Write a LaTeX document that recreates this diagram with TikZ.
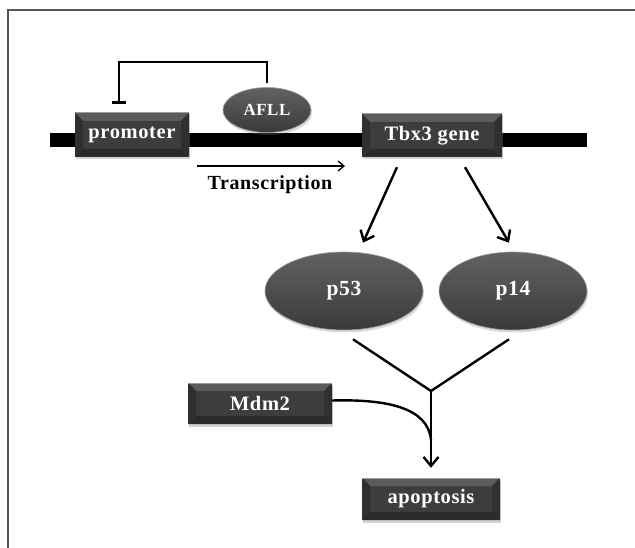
\documentclass[tikz,border=0pt]{standalone}
\usepackage{fontspec}
\setmainfont{Liberation Serif}
\newfontfamily\spacedfont[LetterSpace=3]{Liberation Serif}
\usetikzlibrary{shapes.geometric,arrows.meta,calc,shadows}
\definecolor{facec}{HTML}{3D3D3D}
\definecolor{topc}{HTML}{5C5C5C}
\definecolor{botc}{HTML}{2B2B2B}
\definecolor{sidec}{HTML}{303030}
\definecolor{rimc}{HTML}{9A9A9A}
\definecolor{ellTop}{HTML}{626262}
\definecolor{ellBot}{HTML}{3A3A3A}
\definecolor{framec}{HTML}{555555}
\tikzset{
  bev/.style={rectangle, inner sep=0pt, minimum width=#1, minimum height=43pt,
    fill=facec, text=white, font=\spacedfont\bfseries\fontsize{20.5}{22}\selectfont,
    drop shadow={shadow xshift=1pt, shadow yshift=-2.5pt, opacity=0.35},
    path picture={
      \def\ppb{path picture bounding box}
      \fill[topc] (\ppb.north west) -- (\ppb.north east) -- ([xshift=-8pt,yshift=-8pt]\ppb.north east) -- ([xshift=8pt,yshift=-8pt]\ppb.north west) -- cycle;
      \fill[botc] (\ppb.south west) -- (\ppb.south east) -- ([xshift=-8pt,yshift=8pt]\ppb.south east) -- ([xshift=8pt,yshift=8pt]\ppb.south west) -- cycle;
      \fill[sidec] (\ppb.north west) -- ([xshift=8pt,yshift=-8pt]\ppb.north west) -- ([xshift=8pt,yshift=8pt]\ppb.south west) -- (\ppb.south west) -- cycle;
      \fill[sidec] (\ppb.north east) -- ([xshift=-8pt,yshift=-8pt]\ppb.north east) -- ([xshift=-8pt,yshift=8pt]\ppb.south east) -- (\ppb.south east) -- cycle;
      \draw[rimc, line width=1pt] (\ppb.north west) -- (\ppb.north east);
    }},
  oval/.style={ellipse, inner sep=0pt, minimum width=#1, minimum height=78pt,
    top color=ellTop, bottom color=ellBot, draw=rimc, line width=0.6pt,
    text=white, font=\spacedfont\bfseries\fontsize{21.5}{23}\selectfont,
    drop shadow={shadow xshift=1pt, shadow yshift=-2.5pt, opacity=0.3}},
  conn/.style={line width=2.4pt, black},
  arr/.style={conn, -{Straight Barb[length=9pt,width=15pt,line width=2.4pt]}},
  inh/.style={line width=2.6pt, black, -{Bar[width=14pt,line width=2.6pt]}},
  thin/.style={line width=1.3pt, black, -{Straight Barb[length=6pt,width=10pt,line width=1.3pt]}}
}
\begin{document}
\begin{tikzpicture}[x=1pt,y=-1pt]
\useasboundingbox (0,0) rectangle (635,548);
% frame
\draw[framec, line width=2pt] (8,548) -- (8,10) -- (635,10);
% DNA strand
\fill[black] (50,133) rectangle (587,147);
% nodes
\node[bev=114pt, minimum height=44pt] (prom) at (132,135) {promoter};
\node[bev=140pt] (tbx) at (432,135.5) {Tbx3 gene};
\node[oval=88pt, minimum height=45pt, font=\spacedfont\bfseries\fontsize{17}{19}\selectfont] (afll) at (267,110) {AFLL};
\node[oval=158pt] (p53) at (344,291) {p53};
\node[oval=148pt] (p14) at (513,291) {p14};
\node[bev=144pt, minimum height=41pt] (mdm) at (260,403.5) {Mdm2};
\node[bev=138pt, minimum height=42pt] (apop) at (431,499) {apoptosis};
\node[font=\spacedfont\bfseries\fontsize{20}{22}\selectfont] (trtext) at (270,185) {Transcription};
% inhibition
\draw[inh] ($(afll.north)+(0,-4)$) |- (119,62) -- ($(prom.north)+(-13,-9)$);
% transcription arrow
\coordinate (ts) at (197,166);
\coordinate (te) at (345,166);
\draw[thin] (ts) -- (te);
% Tbx3 -> p53, p14
\draw[arr] ($(tbx.south)+(-35,10)$) -- ($(p53.north)+(19,-9)$);
\draw[arr] ($(tbx.south)+(33,10)$) -- ($(p14.north)+(-4,-9)$);
% convergence
\coordinate (j) at (431,391);
\draw[conn] ($(p53.south)+(9,9)$) -- (j);
\draw[conn] ($(p14.south)+(-4,9)$) -- (j);
\draw[arr] (j) -- ($(apop.north)+(0,-10)$);
% Mdm2 curve
\draw[conn] ([yshift=3pt]mdm.east) .. controls (388,399) and (428,408) .. (431,440);
\end{tikzpicture}
\end{document}
